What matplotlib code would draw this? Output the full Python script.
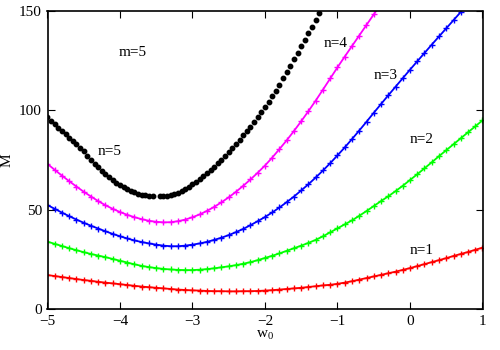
import numpy as np
import matplotlib
matplotlib.use('Agg')
import matplotlib.pyplot as plt

plt.rcParams['font.family'] = ['Liberation Serif', 'DejaVu Serif']
plt.rcParams['mathtext.fontset'] = 'custom'
plt.rcParams['mathtext.rm'] = 'Liberation Serif'
plt.rcParams['mathtext.it'] = 'Liberation Serif'

# n=1 .. n=4 are sampled every 0.1 on w0
x_n1 = np.linspace(-5.0, 1.0, 61)
y_n1 = [17.1, 16.6, 16.1, 15.6, 15.1, 14.6, 14.2, 13.7, 13.3, 12.9,
        12.5, 12.1, 11.7, 11.3, 11.0, 10.7, 10.4, 10.1, 9.8, 9.6,
        9.4, 9.3, 9.1, 9.0, 9.0, 8.9, 8.9, 9.0, 9.0, 9.1,
        9.3, 9.5, 9.8, 10.1, 10.4, 10.7, 11.1, 11.5, 11.9, 12.2,
        12.7, 13.3, 14.0, 14.8, 15.6, 16.4, 17.2, 18.0, 18.8, 19.7,
        20.6, 21.6, 22.6, 23.6, 24.6, 25.6, 26.7, 27.7, 28.7, 29.8, 30.9]

x_n2 = np.linspace(-5.0, 1.0, 61)
y_n2 = [33.9, 32.8, 31.7, 30.6, 29.6, 28.6, 27.7, 26.9, 26.1, 25.2,
        24.3, 23.4, 22.5, 21.7, 21.1, 20.6, 20.2, 19.9, 19.7, 19.6,
        19.6, 19.8, 20.1, 20.5, 21.0, 21.5, 22.1, 22.8, 23.6, 24.6,
        25.7, 26.8, 28.0, 29.3, 30.6, 31.9, 33.3, 34.8, 36.6, 38.6,
        40.6, 42.6, 44.6, 46.9, 49.3, 51.8, 54.3, 56.7, 59.3, 62.0,
        64.9, 67.8, 70.8, 73.8, 76.9, 79.9, 82.9, 85.9, 88.9, 91.9, 94.9]

x_n3 = np.linspace(-5.0, 0.7, 58)
y_n3 = [52.3, 50.4, 48.5, 46.7, 45.0, 43.4, 41.9, 40.5, 39.1, 37.8,
        36.6, 35.5, 34.5, 33.7, 33.0, 32.4, 31.9, 31.6, 31.6, 31.9,
        32.4, 33.0, 33.8, 34.8, 35.9, 37.2, 38.7, 40.3, 42.2, 44.2,
        46.3, 48.6, 51.1, 53.8, 56.6, 59.7, 62.8, 66.2, 69.7, 73.4,
        77.3, 81.3, 85.5, 89.8, 94.2, 98.7, 103.1, 107.5, 111.8, 116.1,
        120.4, 124.6, 128.8, 133.0, 137.1, 141.2, 145.3, 149.4]

x_n4 = np.linspace(-5.0, -0.4, 47)
y_n4 = [73.0, 70.0, 67.1, 64.3, 61.6, 59.0, 56.6, 54.3, 52.2, 50.4,
        48.8, 47.4, 46.2, 45.2, 44.4, 43.9, 43.6, 43.7, 44.2, 45.0,
        46.2, 47.6, 49.4, 51.4, 53.7, 56.2, 59.0, 62.0, 65.2, 68.6,
        72.2, 76.2, 80.5, 84.9, 89.6, 94.5, 99.6, 104.9, 110.4, 116.0,
        121.6, 127.0, 132.3, 137.6, 142.9, 148.2, 153.5]

# n=5 every 0.05, with the small gap near the minimum
x_n5 = [-5.0, -4.95, -4.9, -4.85, -4.8, -4.75, -4.7, -4.65, -4.6, -4.55,
        -4.5, -4.45, -4.4, -4.35, -4.3, -4.25, -4.2, -4.15, -4.1, -4.05,
        -4.0, -3.95, -3.9, -3.85, -3.8, -3.75, -3.7, -3.65, -3.6, -3.55,
        -3.45, -3.4, -3.35, -3.3, -3.25, -3.2, -3.15, -3.1, -3.05, -3.0,
        -2.95, -2.9, -2.85, -2.8, -2.75, -2.7, -2.65, -2.6, -2.55, -2.5,
        -2.45, -2.4, -2.35, -2.3, -2.25, -2.2, -2.15, -2.1, -2.05, -2.0,
        -1.95, -1.9, -1.85, -1.8, -1.75, -1.7, -1.65, -1.6, -1.55, -1.5,
        -1.45, -1.4, -1.35, -1.3, -1.25]
y_n5 = [96.4, 94.7, 93.0, 91.3, 89.6, 87.9, 86.2, 84.5, 82.8, 81.1,
        79.4, 77.2, 75.0, 73.1, 71.3, 69.5, 67.8, 66.3, 64.8, 63.5,
        62.2, 61.2, 60.2, 59.4, 58.7, 58.1, 57.6, 57.2, 56.9, 56.8,
        56.7, 56.8, 57.0, 57.4, 57.9, 58.6, 59.4, 60.4, 61.5, 62.7,
        64.0, 65.4, 66.9, 68.4, 70.0, 71.6, 73.3, 75.1, 77.0, 78.9,
        80.9, 83.0, 85.2, 87.5, 89.4, 91.5, 93.9, 96.4, 98.9, 101.5,
        104.2, 107.0, 109.9, 112.9, 116.0, 119.1, 122.3, 125.6, 128.9, 132.2,
        135.5, 138.8, 142.1, 145.4, 148.7]

labels = ['n=1', 'n=2', 'n=3', 'n=4', 'n=5']
label_pos = [(0.16, 29.7), (0.16, 85.4), (-0.34, 117.3), (-1.03, 133.7), (-4.14, 79.0)]

fig = plt.figure(figsize=(5, 3.5), dpi=100)
ax = fig.add_axes([0.095, 0.117, 0.87, 0.852])

for xs, ys, c in [(x_n1, y_n1, '#ff0000'), (x_n2, y_n2, '#00ff00'),
                  (x_n3, y_n3, '#0000ff'), (x_n4, y_n4, '#ff00ff')]:
    ax.plot(xs, ys, color=c, lw=1.3, marker='+', ms=4.5, mew=1.0)
ax.plot(x_n5, y_n5, color='black', lw=0, marker='o', ms=3.2)

for t, (tx, ty) in zip(labels, label_pos):
    ax.text(tx, ty, t, ha='center', va='center', fontsize=11)
ax.text(-3.82, 129.3, 'm=5', ha='center', va='center', fontsize=11)

ax.set_xlim(-5, 1)
ax.set_ylim(0, 150)
ax.set_xticks(range(-5, 2))
ax.set_yticks([0, 50, 100, 150])
ax.tick_params(direction='in', top=True, right=True, length=5, labelsize=11, pad=4)
for s in ax.spines.values():
    s.set_linewidth(1.2)
ax.set_xlabel(r'w$_0$', fontsize=11, labelpad=1)
ax.set_ylabel('M', fontsize=11, labelpad=4)

fig.savefig('out.png', dpi=100)
